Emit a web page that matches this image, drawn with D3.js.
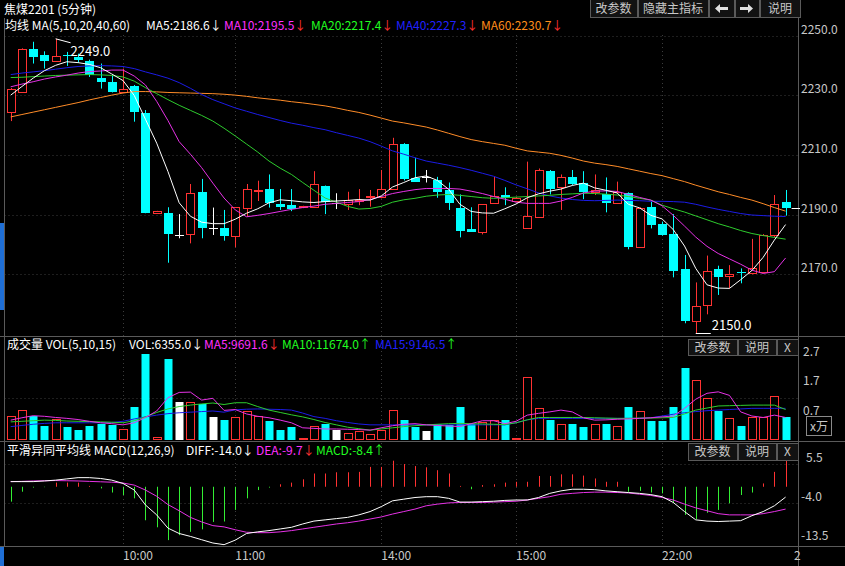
<!DOCTYPE html>
<html><head><meta charset="utf-8">
<script src="https://cdn.jsdelivr.net/npm/d3@7"></script>
<style>
html,body{margin:0;padding:0;background:#000;overflow:hidden;}
svg{display:block;font-family:"Noto Sans CJK SC","Noto Sans",sans-serif;}
</style></head><body>
<svg id="c" width="845" height="566"></svg>
<script>
// ---------- DATA ----------
const title = "焦煤2201 (5分钟)";
const openP  = [2224.5,2231.2,2245.5,2243.5,2241.7,2243.6,2243.0,2241.5,2235.9,2234.6,2231.0,2233.1,2224.2,2190.5,2190.5,2183.2,2183.4,2197.7,2185.4,2185.7,2183.0,2192.4,2198.1,2198.6,2193.6,2193.3,2192.6,2192.7,2199.6,2193.8,2193.5,2194.5,2196.0,2195.8,2198.6,2213.7,2202.4,2202.7,2201.6,2198.3,2192.1,2185.2,2184.3,2193.8,2196.6,2194.7,2185.7,2189.3,2204.6,2199.4,2202.5,2200.5,2197.7,2196.8,2193.8,2197.2,2179.3,2192.7,2186.8,2183.5,2171.8,2154.5,2159.7,2171.8,2169.6,2170.7,2170.4,2170.7,2183.2,2194.4];
const highP  = [2232.5,2245.8,2248.0,2244.8,2249.0,2244.6,2244.0,2242.0,2240.7,2237.0,2239.0,2233.5,2225.1,2191.3,2192.5,2190.2,2200.3,2202.0,2192.4,2191.6,2192.5,2200.3,2201.4,2203.5,2198.6,2198.6,2193.0,2204.6,2199.8,2197.2,2197.7,2198.6,2198.3,2205.0,2215.8,2214.0,2209.1,2205.0,2202.7,2200.8,2196.8,2192.5,2193.5,2202.7,2199.2,2196.0,2207.8,2205.5,2205.0,2203.5,2205.0,2204.6,2203.5,2202.5,2201.1,2197.5,2192.5,2194.4,2187.7,2190.2,2176.5,2167.3,2176.3,2172.9,2173.1,2172.0,2181.9,2183.5,2196.6,2198.3];
const lowP   = [2221.4,2231.0,2240.7,2239.0,2241.5,2239.9,2241.0,2236.2,2232.3,2231.0,2231.0,2221.2,2190.5,2190.4,2173.9,2182.1,2180.4,2182.1,2183.2,2181.3,2179.1,2189.3,2194.6,2192.4,2191.6,2191.2,2192.2,2192.5,2190.2,2191.9,2191.6,2193.2,2192.7,2195.5,2198.4,2201.5,2201.0,2200.8,2195.7,2191.6,2182.4,2184.2,2183.4,2193.6,2193.2,2194.5,2185.5,2189.2,2196.8,2191.6,2200.0,2195.2,2196.6,2190.8,2193.6,2178.4,2179.0,2185.4,2183.0,2169.0,2153.6,2150.0,2156.6,2163.1,2165.3,2167.0,2170.0,2170.5,2182.4,2189.7];
const closeP = [2232.0,2245.5,2243.0,2241.5,2243.3,2243.3,2242.0,2237.0,2234.6,2231.2,2232.3,2224.5,2190.7,2191.2,2183.5,2183.2,2197.2,2185.7,2185.4,2182.9,2192.5,2198.6,2198.4,2193.8,2192.7,2191.9,2192.9,2200.3,2194.4,2193.8,2194.9,2194.8,2196.3,2198.6,2213.7,2202.0,2201.1,2202.7,2197.7,2193.8,2184.6,2184.3,2193.5,2196.3,2195.5,2195.5,2189.6,2205.0,2198.6,2202.5,2200.3,2197.7,2198.3,2193.8,2197.7,2179.3,2192.4,2186.6,2183.2,2171.2,2154.5,2159.5,2171.1,2169.2,2170.0,2170.3,2172.0,2183.2,2193.5,2192.4];
const ma5  = [2230.1,2233.0,2235.8,2238.3,2240.1,2241.3,2241.0,2240.4,2239.3,2237.2,2235.0,2230.0,2222.0,2214.0,2204.5,2194.0,2189.5,2187.5,2187.0,2187.0,2188.5,2190.5,2192.0,2194.0,2195.0,2194.7,2194.3,2194.1,2194.4,2194.6,2194.8,2195.1,2194.9,2196.3,2199.3,2200.8,2202.4,2203.0,2201.5,2198.5,2193.5,2191.1,2190.6,2190.5,2192.0,2193.6,2195.7,2197.0,2197.9,2198.6,2199.8,2200.6,2199.0,2198.2,2197.3,2193.5,2192.3,2189.8,2188.6,2185.0,2179.5,2172.0,2166.5,2165.4,2165.3,2168.2,2171.3,2175.7,2181.5,2186.7];
const ma10 = [2232.9,2233.8,2234.6,2235.5,2236.2,2236.8,2237.5,2238.0,2238.2,2238.5,2238.5,2236.5,2233.5,2228.0,2221.6,2214.5,2210.3,2205.8,2200.6,2195.6,2191.6,2189.3,2189.8,2190.4,2191.1,2191.8,2192.4,2192.9,2193.5,2193.8,2194.1,2194.4,2195.1,2196.1,2197.1,2197.8,2198.4,2198.8,2198.8,2198.8,2198.6,2197.9,2197.1,2196.1,2195.2,2194.2,2193.8,2193.8,2193.8,2194.6,2195.8,2197.3,2197.9,2198.0,2197.8,2196.8,2195.8,2194.9,2193.0,2189.8,2186.2,2182.5,2179.4,2177.0,2175.2,2173.4,2171.4,2170.3,2170.9,2175.5];
const ma20 = [2236.0,2236.1,2236.3,2236.5,2236.7,2236.8,2236.9,2237.0,2236.9,2236.7,2236.2,2234.8,2232.6,2230.6,2228.6,2226.7,2225.0,2223.3,2221.4,2219.0,2216.4,2213.7,2211.0,2208.0,2205.6,2203.5,2200.8,2198.2,2195.6,2194.2,2192.8,2191.9,2192.1,2192.8,2194.2,2195.0,2195.5,2196.2,2196.6,2196.8,2196.5,2196.1,2195.7,2195.5,2195.7,2195.9,2196.1,2196.3,2196.5,2196.8,2197.0,2197.2,2197.1,2196.9,2196.6,2196.1,2195.5,2194.9,2193.2,2192.0,2190.9,2189.6,2188.3,2187.0,2185.9,2184.7,2183.7,2183.0,2182.4,2181.8];
const ma40 = [2237.0,2237.5,2237.9,2238.3,2238.8,2239.3,2239.7,2239.9,2240.0,2239.9,2239.7,2239.0,2237.9,2236.9,2235.8,2234.3,2232.4,2230.3,2228.6,2227.2,2225.8,2224.7,2223.6,2222.6,2221.6,2220.7,2220.0,2219.2,2218.5,2217.5,2216.6,2215.7,2214.5,2213.0,2211.4,2210.3,2209.1,2208.0,2207.3,2206.6,2205.8,2204.9,2203.9,2202.9,2201.5,2200.0,2198.7,2197.3,2196.3,2195.6,2195.1,2194.8,2194.7,2194.8,2194.9,2194.8,2194.7,2194.5,2194.5,2194.4,2194.2,2193.5,2192.6,2191.8,2191.1,2190.4,2189.9,2189.7,2189.5,2189.4];
const ma60 = [2222.8,2223.6,2224.4,2225.2,2226.0,2226.8,2227.6,2228.5,2229.3,2230.1,2230.8,2231.3,2231.3,2231.2,2231.0,2230.9,2230.8,2230.7,2230.6,2230.4,2230.1,2229.7,2229.2,2228.8,2228.4,2227.9,2227.5,2227.0,2226.5,2225.8,2225.0,2224.3,2223.4,2222.4,2221.4,2220.8,2220.1,2219.4,2218.4,2217.3,2216.2,2215.2,2214.5,2213.9,2213.3,2212.3,2211.4,2211.0,2210.6,2209.9,2209.0,2208.0,2207.3,2206.8,2206.2,2205.4,2204.6,2203.8,2203.1,2202.1,2201.1,2199.9,2198.8,2197.7,2196.8,2195.8,2194.9,2193.7,2192.4,2191.2];
// volume in 万 (10k)
const vol   = [0.79,0.97,0.79,0.45,0.68,0.40,0.29,0.43,0.51,0.49,0.35,1.07,2.89,0.06,2.72,1.24,1.24,1.20,0.73,0.6355,0.73,0.94,0.79,0.60,0.32,0.40,0.03,0.45,0.51,0.32,0.20,0.26,0.17,0.32,0.97,0.65,0.40,0.26,0.51,0.49,1.07,0.51,0.56,0.65,0.65,0.03,2.10,1.05,0.66,0.51,0.51,0.41,0.51,0.51,0.43,1.07,0.94,0.60,0.60,1.07,2.40,2.00,1.39,0.94,0.70,0.45,0.73,0.73,1.45,0.73];
const volMa5  = [0.64,0.72,0.79,0.77,0.73,0.70,0.66,0.60,0.55,0.52,0.48,0.55,0.73,0.95,1.40,1.58,1.59,1.32,1.38,0.97,1.00,0.85,0.77,0.72,0.64,0.55,0.38,0.36,0.34,0.34,0.33,0.32,0.30,0.38,0.45,0.50,0.52,0.48,0.46,0.44,0.42,0.52,0.62,0.62,0.52,0.60,0.81,0.87,0.92,0.98,0.92,0.72,0.64,0.65,0.67,0.68,0.70,0.72,0.75,0.78,1.04,1.35,1.55,1.60,1.48,0.92,0.78,0.73,0.81,0.73];
const volMa10 = [0.58,0.60,0.62,0.64,0.63,0.61,0.60,0.59,0.58,0.57,0.55,0.62,0.75,0.90,1.02,1.10,1.15,1.19,1.22,1.17,1.23,1.23,1.10,0.98,0.90,0.82,0.75,0.66,0.56,0.48,0.40,0.35,0.30,0.34,0.38,0.42,0.45,0.48,0.50,0.52,0.53,0.52,0.51,0.50,0.49,0.55,0.65,0.73,0.73,0.73,0.73,0.73,0.72,0.71,0.70,0.70,0.71,0.71,0.72,0.73,0.85,0.98,1.05,1.12,1.13,1.14,1.15,1.15,1.15,1.00];
const volMa15 = [0.42,0.46,0.50,0.53,0.55,0.55,0.55,0.55,0.55,0.56,0.60,0.68,0.75,0.81,0.86,0.89,0.91,0.93,0.95,0.91,0.99,1.01,1.02,1.01,1.00,0.98,0.88,0.76,0.70,0.62,0.56,0.51,0.48,0.48,0.48,0.48,0.48,0.48,0.48,0.48,0.48,0.48,0.48,0.48,0.48,0.55,0.65,0.70,0.70,0.70,0.70,0.70,0.70,0.70,0.70,0.70,0.70,0.72,0.78,0.84,0.89,0.93,0.96,0.98,1.00,1.02,1.04,1.04,1.04,1.04];
const macdHist = [-3.6,-1.2,-0.2,-0.1,1.0,1.0,1.0,0.2,-0.4,-1.4,-2.0,-2.8,-8.1,-9.8,-12.9,-11.7,-10.9,-10.3,-8.5,-8.4,-5.6,-2.8,-0.8,-0.2,0.6,1.0,1.8,3.2,3.2,3.5,3.5,3.6,4.8,4.8,6.3,5.5,5.0,4.7,4.0,3.2,0.2,-0.6,0.4,0.6,1.0,1.2,1.2,2.6,2.6,3.0,3.0,2.7,2.0,1.2,1.2,-1.2,-1.0,-1.4,-1.6,-3.9,-6.8,-7.8,-6.3,-5.6,-4.0,-2.0,-1.4,0.8,3.6,6.3];
const diff = [1.24,1.24,1.24,1.4,1.6,1.9,2.2,2.2,2.0,1.6,0.8,-0.8,-4.4,-6.8,-10.0,-11.3,-12.0,-12.8,-13.6,-14.0,-12.9,-11.3,-10.9,-10.6,-10.2,-9.8,-9.0,-8.3,-8.0,-7.7,-7.4,-6.8,-6.0,-4.8,-3.4,-3.0,-2.6,-2.4,-2.4,-2.8,-3.7,-3.7,-3.6,-3.5,-3.3,-3.2,-3.2,-2.6,-1.6,-1.0,-0.6,-0.6,-0.7,-1.0,-1.2,-1.4,-1.6,-1.9,-2.4,-3.8,-6.0,-8.0,-8.3,-8.4,-8.3,-8.2,-7.0,-6.0,-4.6,-2.5];
const dea  = [1.24,1.3,1.4,1.45,1.5,1.45,1.4,1.3,1.2,1.1,0.9,0.4,-0.8,-2.3,-4.3,-5.8,-7.4,-8.5,-9.4,-9.7,-10.4,-11.0,-11.1,-11.1,-10.9,-10.6,-10.2,-9.8,-9.4,-9.0,-8.7,-8.3,-7.8,-7.3,-6.6,-6.0,-5.4,-4.6,-4.2,-3.9,-3.8,-3.8,-3.8,-3.7,-3.6,-3.5,-3.2,-2.8,-2.4,-1.8,-1.6,-1.4,-1.3,-1.3,-1.4,-1.5,-1.8,-2.1,-2.6,-3.2,-4.2,-5.1,-5.8,-6.5,-6.8,-6.8,-6.8,-6.5,-6.0,-5.4];
const priceTicks = [2250,2230,2210,2190,2170];
const volTicks = [2.7,1.7,0.7];
const macdTicks = [5.5,-4.0,-13.5];
const timeTicks = [{i:10,label:"10:00"},{i:20,label:"11:00"},{i:33,label:"14:00"},{i:45,label:"15:00"},{i:58,label:"22:00"}];
const endLabel = "2";
const maHeader = [
  {t:"均线 MA(5,10,20,40,60)",c:"#ffffff",x:5},
  {t:"MA5:2186.6",a:"↓",c:"#ffffff",ac:"#ffffff",x:146},
  {t:"MA10:2195.5",a:"↓",c:"#ff30ff",ac:"#ff3030",x:224},
  {t:"MA20:2217.4",a:"↓",c:"#20ff20",ac:"#ff3030",x:311},
  {t:"MA40:2227.3",a:"↓",c:"#2020ff",ac:"#ff3030",x:396},
  {t:"MA60:2230.7",a:"↓",c:"#ff8c1a",ac:"#ff3030",x:481}
];
const volHeader = [
  {t:"成交量 VOL(5,10,15)",c:"#ffffff",x:7},
  {t:"VOL:6355.0",a:"↓",c:"#ffffff",ac:"#ffffff",x:129},
  {t:"MA5:9691.6",a:"↓",c:"#ff30ff",ac:"#ff3030",x:204},
  {t:"MA10:11674.0",a:"↑",c:"#20ff20",ac:"#20ff20",x:282},
  {t:"MA15:9146.5",a:"↑",c:"#2020ff",ac:"#20ff20",x:375}
];
const macdHeader = [
  {t:"平滑异同平均线 MACD(12,26,9)",c:"#ffffff",x:7},
  {t:"DIFF:-14.0",a:"↓",c:"#ffffff",ac:"#ffffff",x:186},
  {t:"DEA:-9.7",a:"↓",c:"#ff30ff",ac:"#ff3030",x:256},
  {t:"MACD:-8.4",a:"↑",c:"#20ff20",ac:"#20ff20",x:316}
];

// ---------- LAYOUT ----------
const W=845,H=566, L=4.5, R=798;
const pTop=35, pBot=336, vTop=336, vBot=441, mTop=441, mBot=546;
const n = closeP.length;
const x  = d3.scaleLinear().domain([0,n-1]).range([10.7,785.6]);
const yP = d3.scaleLinear().domain([2150,2250]).range([334.0,35.8]);
const yV = d3.scaleLinear().domain([0,2.7]).range([439,359.4]);
const yM = d3.scaleLinear().domain([-13.5,5.5]).range([542.6,464]);

const RED="#ff3232", CYAN="#00ffff", WHITE="#ffffff", GRID="#3c3c3c", AX="#c8c8c8";
const svg = d3.select("#c");
svg.append("rect").attr("width",W).attr("height",H).attr("fill","#000");
const px = v => Math.round(v)+0.5;

// grid lines
const g = svg.append("g");
priceTicks.forEach(v=>g.append("line").attr("x1",L).attr("x2",R).attr("y1",px(yP(v))).attr("y2",px(yP(v)))
  .attr("stroke",GRID).attr("stroke-dasharray","1,3"));
macdTicks.slice(0,2).forEach(v=>g.append("line").attr("x1",L).attr("x2",R).attr("y1",px(yM(v))).attr("y2",px(yM(v)))
  .attr("stroke",GRID).attr("stroke-dasharray","1,3"));
g.append("line").attr("x1",L).attr("x2",R).attr("y1",px(yV(1.4))).attr("y2",px(yV(1.4))).attr("stroke",GRID).attr("stroke-dasharray","1,3");
timeTicks.forEach(t=>g.append("line").attr("x1",px(x(t.i))).attr("x2",px(x(t.i))).attr("y1",pTop).attr("y2",mBot)
  .attr("stroke",GRID).attr("stroke-dasharray","1,3"));

// frame lines
const fr = svg.append("g").attr("stroke","#5a5a5a");
fr.append("line").attr("x1",R+0.5).attr("x2",R+0.5).attr("y1",0).attr("y2",H);
fr.append("line").attr("x1",L).attr("x2",L).attr("y1",18).attr("y2",mBot);
[pBot,vBot,mBot].forEach(y=>fr.append("line").attr("x1",0).attr("x2",W).attr("y1",y+0.5).attr("y2",y+0.5));
svg.append("rect").attr("x",0).attr("y",223).attr("width",4).attr("height",87).attr("fill","#1f6fd6");
svg.append("rect").attr("x",0).attr("y",547).attr("width",4).attr("height",19).attr("fill","#1f6fd6");

// ---------- candles ----------
const cg = svg.append("g");
for(let i=0;i<n;i++){
  const o=openP[i], c=closeP[i], h=highP[i], l=lowP[i];
  const cx = px(x(i));
  const col = c>o?RED:(c<o?CYAN:WHITE);
  const top=Math.round(yP(Math.max(o,c))), bot=Math.round(yP(Math.min(o,c)));
  cg.append("line").attr("x1",cx).attr("x2",cx).attr("y1",yP(h)).attr("y2",yP(l)).attr("stroke",col);
  if(c>o){
    cg.append("rect").attr("x",cx-4).attr("y",top+0.5).attr("width",8).attr("height",Math.max(1,bot-top))
      .attr("fill","#000").attr("stroke",RED);
  } else if(c<o){
    cg.append("rect").attr("x",cx-4.5).attr("y",top).attr("width",9).attr("height",Math.max(1,bot-top)).attr("fill",CYAN);
  } else {
    cg.append("line").attr("x1",cx-4.5).attr("x2",cx+4.5).attr("y1",top+0.5).attr("y2",top+0.5).attr("stroke",WHITE);
  }
}
// MA lines
const lineP = d3.line().x((d,i)=>x(i)).y(d=>yP(d));
[[ma60,"#ff8c28"],[ma40,"#1c1ce6"],[ma20,"#2ecc2e"],[ma10,"#e632e6"],[ma5,"#ffffff"]].forEach(([d,c])=>
  svg.append("path").attr("d",lineP(d)).attr("fill","none").attr("stroke",c).attr("stroke-width",1));

// high / low marks
const hi = d3.maxIndex(highP), lo = d3.minIndex(lowP);
svg.append("line").attr("x1",x(hi)).attr("y1",yP(highP[hi])).attr("x2",x(hi)+15).attr("y2",yP(highP[hi])+4).attr("stroke","#fff");
svg.append("text").attr("x",x(hi)+15).attr("y",yP(highP[hi])+17).attr("fill","#fff").attr("font-size",13).text(highP[hi].toFixed(1));
svg.append("line").attr("x1",x(lo)).attr("y1",px(yP(lowP[lo]))-1).attr("x2",x(lo)+15).attr("y2",px(yP(lowP[lo]))-1).attr("stroke","#fff");
svg.append("text").attr("x",x(lo)+16).attr("y",yP(lowP[lo])-4).attr("fill","#fff").attr("font-size",13).text(lowP[lo].toFixed(1));
// last price marker
svg.append("line").attr("x1",x(n-1)+6).attr("x2",R+2).attr("y1",px(yP(closeP[n-1]))).attr("y2",px(yP(closeP[n-1]))).attr("stroke","#fff");

// ---------- volume ----------
const vg = svg.append("g");
for(let i=0;i<n;i++){
  const o=openP[i], c=closeP[i];
  const cx=px(x(i)), top=Math.round(yV(vol[i])), bot=Math.round(yV(0));
  if(c>o) vg.append("rect").attr("x",cx-4).attr("y",top+0.5).attr("width",8).attr("height",Math.max(1,bot-top)).attr("fill","#000").attr("stroke",RED);
  else vg.append("rect").attr("x",cx-4).attr("y",top).attr("width",8).attr("height",Math.max(1,bot-top+1)).attr("fill",c<o?CYAN:WHITE);
}
const lineV = d3.line().x((d,i)=>x(i)).y(d=>yV(d));
[[volMa15,"#1c1ce6"],[volMa10,"#2ecc2e"],[volMa5,"#e632e6"]].forEach(([d,c])=>
  svg.append("path").attr("d",lineV(d)).attr("fill","none").attr("stroke",c));

// ---------- MACD ----------
const mg = svg.append("g");
for(let i=0;i<n;i++){
  const v=macdHist[i];
  mg.append("line").attr("x1",px(x(i))).attr("x2",px(x(i))).attr("y1",yM(0)).attr("y2",yM(v))
    .attr("stroke",v>=0?RED:"#33ee33");
}
const lineM = d3.line().x((d,i)=>x(i)).y(d=>yM(d));
svg.append("path").attr("d",lineM(dea)).attr("fill","none").attr("stroke","#e632e6");
svg.append("path").attr("d",lineM(diff)).attr("fill","none").attr("stroke","#ffffff");

// ---------- axes text ----------
const at = svg.append("g").attr("fill",AX).attr("font-size",12);
priceTicks.forEach(v=>at.append("text").attr("x",801).attr("y",yP(v)-2).text(v.toFixed(1)));
volTicks.forEach(v=>at.append("text").attr("x",803).attr("y",yV(v)-3.5).text(v.toFixed(1)));
macdTicks.forEach(v=>at.append("text").attr("x",v>0?806:801).attr("y",yM(v)-2.5).text(v.toFixed(1)));
svg.append("rect").attr("x",806.5).attr("y",416.5).attr("width",25).attr("height",19).attr("fill","none").attr("stroke","#8a8a8a");
at.append("text").attr("x",819).attr("y",431).attr("text-anchor","middle").text("x万");
timeTicks.forEach(t=>at.append("text").attr("x",x(t.i)).attr("y",560).text(t.label));
at.append("text").attr("x",794).attr("y",560).text(endLabel);

// ---------- headers ----------
svg.append("text").attr("x",4).attr("y",14).attr("fill","#fff").attr("font-size",12).text(title);
function header(items,y){
  items.forEach(it=>{
    const t=svg.append("text").attr("x",it.x).attr("y",y).attr("font-size",12).attr("fill",it.c);
    t.append("tspan").text(it.t);
    if(it.a) t.append("tspan").attr("fill",it.ac).text(it.a);
  });
}
header(maHeader,30);
header(volHeader,349);
header(macdHeader,455);

// buttons
function button(x0,x1,y0,y1,label){
  svg.append("rect").attr("x",x0+0.5).attr("y",y0+0.5).attr("width",x1-x0).attr("height",y1-y0)
    .attr("fill","#121212").attr("stroke","#5a5a5a");
  if(label) svg.append("text").attr("x",(x0+x1)/2).attr("y",(y0+y1)/2+4.5).attr("text-anchor","middle")
    .attr("font-size",12).attr("fill","#c8c8c8").text(label);
}
button(590,637,-1,17,"改参数");
button(638,708,-1,17,"隐藏主指标");
button(709,734,-1,17,"");
button(735,759,-1,17,"");
button(760,800,-1,17,"说明");
svg.append("path").attr("d","M715,8.5 L720,4 L720,7 L728,7 L728,10 L720,10 L720,13 Z").attr("fill","#e0e0e0");
svg.append("path").attr("d","M753,8.5 L748,4 L748,7 L740,7 L740,10 L748,10 L748,13 Z").attr("fill","#e0e0e0");
[[339,355],[443,460]].forEach(([a,b])=>{
  button(688,737,a,b,"改参数");
  button(738,776,a,b,"说明");
  button(777,798,a,b,"X");
});
</script>
</body></html>
